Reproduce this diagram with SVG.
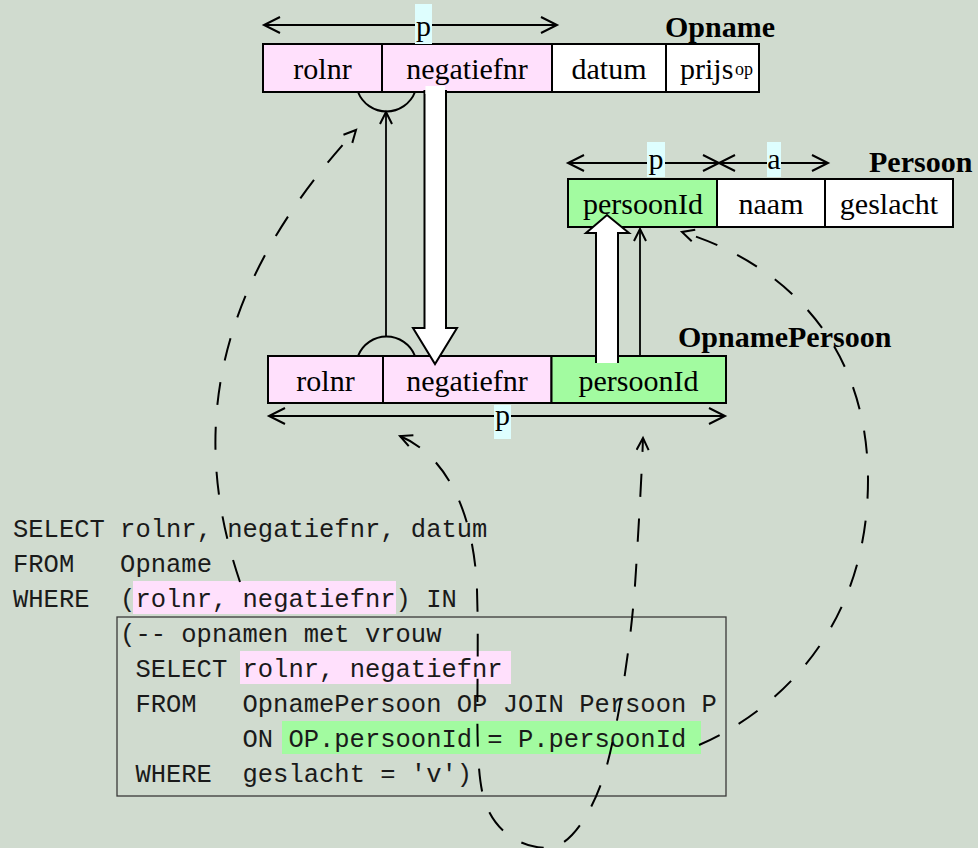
<svg xmlns="http://www.w3.org/2000/svg" width="978" height="848" viewBox="0 0 978 848">
<style>
.cell{stroke:#000;stroke-width:2}
.pk{fill:#FFE0FC}
.gr{fill:#A2FBA0}
.wh{fill:#FFFFFF}
.t{font-family:"Liberation Serif","Times New Roman",serif;font-size:30px;fill:#000;text-anchor:middle}
.title{font-family:"Liberation Serif","Times New Roman",serif;font-size:30px;font-weight:bold;fill:#000}
.sql{font-family:"Liberation Mono","Courier New",monospace;font-size:25.5px;fill:#1a1a1a;white-space:pre}
.lbl{fill:#DEFEFE}
.ln{stroke:#000;stroke-width:2;fill:none}
.thin{stroke:#000;stroke-width:1.8;fill:none}
.dash{stroke:#000;stroke-width:2;fill:none;stroke-dasharray:23 22}
.fat{fill:#FFFFFF;stroke:#000;stroke-width:2}
</style>
<defs>
<marker id="ahBig" markerUnits="userSpaceOnUse" markerWidth="20" markerHeight="20" refX="17" refY="9" orient="auto-start-reverse">
<path d="M1,1 L17,9 L1,17" fill="none" stroke="#000" stroke-width="2"/>
</marker>
<marker id="ahSmall" markerUnits="userSpaceOnUse" markerWidth="16" markerHeight="16" refX="13" refY="7" orient="auto-start-reverse">
<path d="M1,1 L13,7 L1,13" fill="none" stroke="#000" stroke-width="2" stroke-dasharray="none"/>
</marker>
</defs>
<rect x="0" y="0" width="978" height="848" fill="#D0DBCF"/>

<g id="opname">
<rect class="cell pk" x="263" y="44" width="119" height="48"/>
<rect class="cell pk" x="382" y="44" width="170" height="48"/>
<rect class="cell wh" x="552" y="44" width="114" height="48"/>
<rect class="cell wh" x="666" y="44" width="93" height="48"/>
<text class="t" x="322.5" y="79">rolnr</text>
<text class="t" x="467" y="79">negatiefnr</text>
<text class="t" x="609" y="79">datum</text>
<text class="t" x="680" y="79" style="text-anchor:start">prijs</text>
<text class="t" x="735" y="75" style="text-anchor:start;font-size:18px">op</text>
<text class="title" x="775" y="37" text-anchor="end">Opname</text>
</g>

<g id="persoon">
<rect class="cell gr" x="568" y="179" width="149" height="48"/>
<rect class="cell wh" x="717" y="179" width="108" height="48"/>
<rect class="cell wh" x="825" y="179" width="128" height="48"/>
<text class="t" x="643" y="214">persoonId</text>
<text class="t" x="771" y="214">naam</text>
<text class="t" x="889" y="214">geslacht</text>
<text class="title" x="869" y="172">Persoon</text>
</g>

<g id="opnamepersoon">
<rect class="cell pk" x="268" y="356" width="115" height="47"/>
<rect class="cell pk" x="383" y="356" width="168.5" height="47"/>
<rect class="cell gr" x="551.5" y="356" width="174.5" height="47"/>
<text class="t" x="325.5" y="391">rolnr</text>
<text class="t" x="467" y="391">negatiefnr</text>
<text class="t" x="638.5" y="391">persoonId</text>
<text class="title" x="678" y="347">OpnamePersoon</text>
</g>

<g id="sql">
<rect x="133" y="581" width="263" height="33" class="pk"/>
<rect x="240" y="651" width="271" height="33" class="pk"/>
<rect x="282" y="721" width="419" height="33" class="gr"/>
<rect x="117" y="617" width="609" height="179" fill="none" stroke="#3a3a3a" stroke-width="1.3"/>
<text class="sql" xml:space="preserve" x="13" y="537">SELECT rolnr, negatiefnr, datum</text>
<text class="sql" xml:space="preserve" x="13" y="572">FROM   Opname</text>
<text class="sql" xml:space="preserve" x="13" y="607">WHERE  (rolnr, negatiefnr) IN</text>
<text class="sql" xml:space="preserve" x="120.1" y="642">(-- opnamen met vrouw</text>
<text class="sql" xml:space="preserve" x="135.4" y="677">SELECT rolnr, negatiefnr</text>
<text class="sql" xml:space="preserve" x="135.4" y="712">FROM   OpnamePersoon OP JOIN Persoon P</text>
<text class="sql" xml:space="preserve" x="242.5" y="747">ON OP.persoonId = P.persoonId</text>
<text class="sql" xml:space="preserve" x="135.4" y="782">WHERE  geslacht = 'v')</text>
</g>

<g id="connectors">
<!-- key span arrows -->
<line class="ln" x1="264" y1="25" x2="557" y2="25" marker-start="url(#ahBig)" marker-end="url(#ahBig)"/>
<rect class="lbl" x="415" y="4" width="17" height="40"/>
<text class="t" x="423.5" y="36">p</text>
<line class="ln" x1="568" y1="163" x2="719" y2="163" marker-start="url(#ahBig)" marker-end="url(#ahBig)"/>
<line class="ln" x1="719" y1="163" x2="828" y2="163" marker-start="url(#ahBig)" marker-end="url(#ahBig)"/>
<rect class="lbl" x="647" y="142" width="18" height="35"/>
<text class="t" x="656" y="169">p</text>
<rect class="lbl" x="767" y="142" width="14" height="35"/>
<text class="t" x="774" y="169">a</text>
<line class="ln" x1="269" y1="416" x2="725" y2="416" marker-start="url(#ahBig)" marker-end="url(#ahBig)"/>
<rect class="lbl" x="494" y="405" width="17" height="34"/>
<text class="t" x="502.5" y="425">p</text>
<!-- foreign key arcs and thin arrows -->
<path class="ln" d="M358,92 A30.6,30.6 0 0,0 415,92"/>
<path class="ln" d="M358,356 A30.6,30.6 0 0,1 415,356"/>
<line class="thin" x1="386" y1="337" x2="386" y2="112" marker-end="url(#ahSmall)"/>
<line class="thin" x1="640" y1="356" x2="640" y2="229" marker-end="url(#ahSmall)"/>
<!-- fat white arrows -->
<path class="fat" d="M424.5,90 V328 H413 L435,364 L457,328 H446 V90"/>
<rect x="425.5" y="86" width="19.5" height="8" fill="#fff"/>
<path class="fat" d="M596,363 V233 H586 L607,215 L629,233 H618 V363"/>
<rect x="597" y="352" width="20" height="11" fill="#fff"/>
<!-- dashed reference curves -->
<path class="dash" d="M240,582 C195,450 200,300 356,130" marker-end="url(#ahSmall)"/>
<path class="dash" d="M400,436 C445,455 474,510 477,590 C480,680 472,770 486,805 C500,840 530,848 548,848 C570,848 595,810 607,765 C619,720 632,640 636,570 C639,520 642,470 643,438" marker-start="url(#ahSmall)" marker-end="url(#ahSmall)"/>
<path class="dash" d="M699,745 C775,712 868,630 868,480 C868,340 780,262 682,232" marker-end="url(#ahSmall)"/>
</g>
</svg>
